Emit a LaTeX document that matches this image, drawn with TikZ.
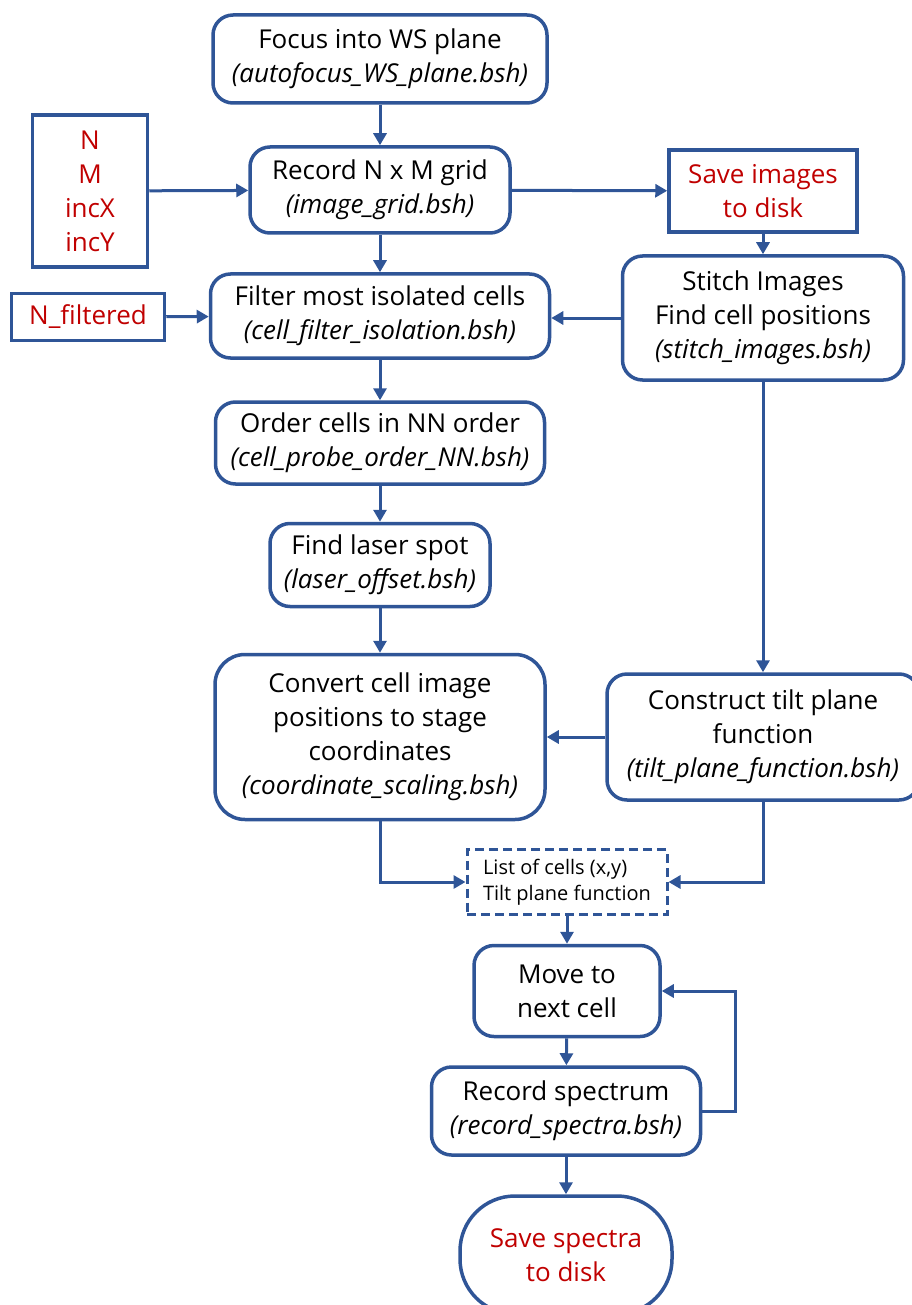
\documentclass[tikz,border=0pt]{standalone}
\usepackage{fontspec}
\setmainfont{Open Sans}
\usepackage{tikz}
\usetikzlibrary{arrows.meta,positioning}
\definecolor{flowblue}{RGB}{47,85,151}
\definecolor{flowred}{RGB}{192,0,0}
\newcommand{\bsh}[1]{{\itshape #1}}

\begin{document}
\begin{tikzpicture}[x=1pt, y=-1pt,
    proc/.style={rectangle, draw=flowblue, line width=3.5pt, rounded corners=20pt,
        align=center, font=\fontsize{26}{34}\selectfont, inner sep=2pt},
    param/.style={rectangle, draw=flowblue, line width=3.5pt, align=center,
        text=flowred, font=\fontsize{26}{34}\selectfont, inner sep=2pt},
    datalist/.style={rectangle, draw=flowblue, line width=3pt, dash pattern=on 9pt off 5pt,
        align=left, font=\fontsize{20}{26}\selectfont, inner sep=2pt},
    arr/.style={-{Triangle[length=12pt,width=13pt]}, line width=3pt, flowblue}
]
    \useasboundingbox (0,0) rectangle (911,1305);

    % ---- main column ----
    \node[proc, minimum width=334, minimum height=88] (focus) at (380,59)
        {Focus into WS plane\\\bsh{(autofocus\_WS\_plane.bsh)}};
    \node[proc, minimum width=260, minimum height=86] (grid) at (380,190)
        {Record N x M grid\\\bsh{(image\_grid.bsh)}};
    \node[proc, minimum width=339, minimum height=84] (filter) at (380,316)
        {Filter most isolated cells\\\bsh{(cell\_filter\_isolation.bsh)}};
    \node[proc, minimum width=329, minimum height=82] (order) at (380,443)
        {Order cells in NN order\\\bsh{(cell\_probe\_order\_NN.bsh)}};
    \node[proc, minimum width=220, minimum height=83] (laser) at (380,565)
        {Find laser spot\\\bsh{(laser\_offset.bsh)}};
    \node[proc, rounded corners=30pt, minimum width=330, minimum height=165] (convert) at (380,737)
        {Convert cell image\\positions to stage\\coordinates\\\bsh{(coordinate\_scaling.bsh)}};

    % ---- inputs (left) ----
    \node[param, minimum width=115, minimum height=152] (gridpar) at (90,191)
        {N\\M\\incX\\incY};
    \node[param, minimum width=153, minimum height=47] (nfilt) at (88,317)
        {N\_filtered};

    % ---- image branch (right) ----
    \node[param, minimum width=188, minimum height=82] (saveimg) at (763,191)
        {Save images\\to disk};
    \node[proc, minimum width=281, minimum height=124] (stitch) at (763,318)
        {Stitch Images\\Find cell positions\\\bsh{(stitch\_images.bsh)}};
    \node[proc, minimum width=312, minimum height=126] (tilt) at (763,737)
        {Construct tilt plane\\function\\\bsh{(tilt\_plane\_function.bsh)}};

    % ---- probing loop ----
    \node[datalist, minimum width=200, minimum height=65] (cells) at (567,882)
        {List of cells (x,y)\\Tilt plane function};
    \node[proc, minimum width=186, minimum height=91] (move) at (567,991)
        {Move to\\next cell};
    \node[proc, minimum width=269, minimum height=88] (spec) at (566,1111)
        {Record spectrum\\\bsh{(record\_spectra.bsh)}};
    \node[proc, rounded corners=55pt, text=flowred, minimum width=212, minimum height=118] (savespec) at (566,1255)
        {Save spectra\\to disk};

    % ---- connectors ----
    \draw[arr] (focus) -- (grid);
    \draw[arr] (gridpar) -- (grid);
    \draw[arr] (grid) -- (saveimg);
    \draw[arr] (grid) -- (filter);
    \draw[arr] (saveimg) -- (stitch);
    \draw[arr] (nfilt) -- (filter);
    \draw[arr] (stitch.west) -- (stitch.west -| filter.east);
    \draw[arr] (filter) -- (order);
    \draw[arr] (order) -- (laser);
    \draw[arr] (laser) -- (convert);
    \draw[arr] (stitch) -- (tilt);
    \draw[arr] (tilt) -- (convert);
    \draw[arr] (convert.south) |- (cells.west);
    \draw[arr] (tilt.south) |- (cells.east);
    \draw[arr] (cells) -- (move);
    \draw[arr] (move) -- (spec);
    \draw[arr] (spec.east) -- ++(33,0) |- (move.east);
    \draw[arr] (spec) -- (savespec);
\end{tikzpicture}
\end{document}
